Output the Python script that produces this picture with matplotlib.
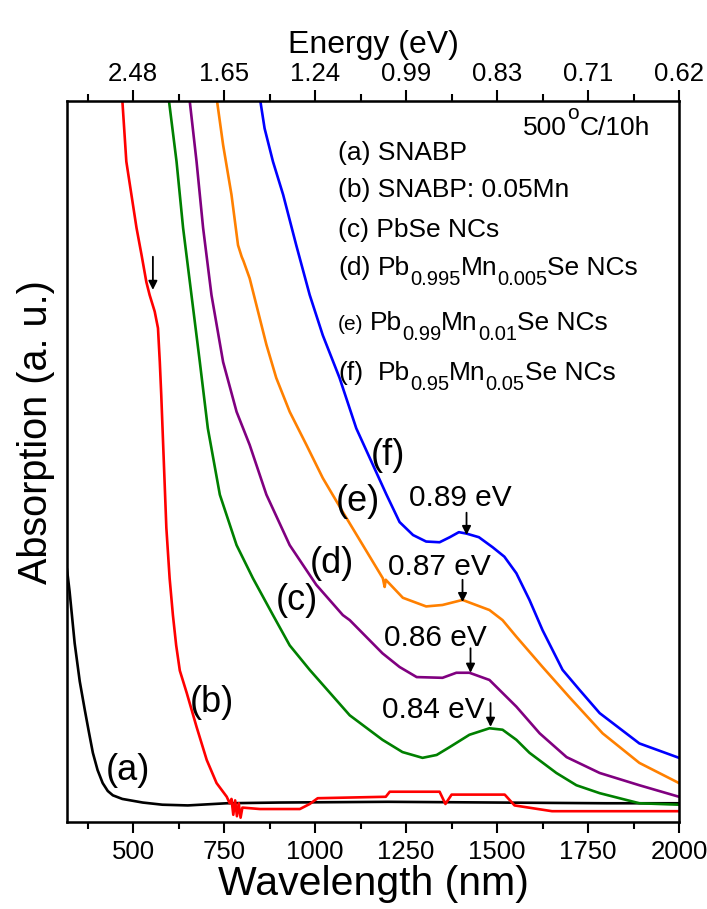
import matplotlib
matplotlib.use("Agg")
import matplotlib.pyplot as plt
from matplotlib.transforms import offset_copy

plt.rcParams["font.family"] = ["Liberation Sans", "DejaVu Sans"]

# ---- data (absorption in arbitrary units 0..100) ----
wl_a = [318, 325, 339, 353, 367, 378, 389, 402, 416, 430, 444, 470, 526, 580, 650, 757, 900,
        1200, 1500, 1800, 2000]
ab_a = [35.0, 32.0, 24.8, 19.5, 15.5, 12.5, 9.6, 7.2, 5.4, 4.3, 3.7, 3.2, 2.7, 2.4, 2.3, 2.6,
        2.7, 2.8, 2.7, 2.6, 2.6]

wl_b = [465, 470, 481, 495, 509, 523, 536, 545, 559, 568, 573, 577, 584, 591, 600, 609, 618, 628,
        647, 674, 702, 729, 757, 765, 770, 775, 780, 785, 790, 795, 800, 848, 958, 985, 1007, 1194,
        1205, 1342, 1358, 1375, 1521, 1548, 1651, 2000]
ab_b = [105.0, 100.1, 91.6, 87.0, 82.4, 78.6, 74.9, 73.1, 70.8, 68.5, 63.8, 59.2, 50.0, 40.8,
        33.8, 28.7, 24.5, 21.0, 17.9, 13.2, 8.6, 5.4, 3.5, 2.6, 3.2, 1.0, 3.0, 0.8, 2.6, 0.6,
        2.0, 1.8, 1.8, 2.5, 3.3, 3.5, 4.2, 4.2, 2.5, 3.8, 3.8, 2.3, 1.5, 1.5]

wl_c = [590, 598, 619, 637, 660, 683, 705, 738, 784, 829, 884, 930, 985, 1095, 1185, 1240, 1295,
        1334, 1370, 1424, 1479, 1515, 1553, 1589, 1663, 1718, 1782, 1891, 2000]
ab_c = [102, 100.1, 91.6, 82.4, 73.1, 63.8, 54.6, 45.4, 38.4, 33.8, 28.7, 24.5, 21.1, 14.8,
        11.4, 9.7, 8.9, 9.3, 10.4, 12.1, 13.0, 12.8, 11.4, 9.6, 6.8, 5.1, 4.0, 2.6, 2.4]

wl_d = [648, 655, 674, 692, 715, 747, 784, 820, 866, 930, 1003, 1076, 1095, 1185, 1232, 1279,
        1350, 1388, 1424, 1479, 1515, 1553, 1617, 1691, 1782, 1891, 2000]
ab_d = [102, 100.1, 91.6, 82.4, 73.1, 63.8, 56.9, 52.3, 45.4, 38.4, 32.9, 28.7, 28.0, 23.4,
        21.5, 20.1, 20.0, 20.7, 20.7, 19.7, 17.9, 16.0, 12.3, 9.0, 6.8, 5.1, 3.5]

wl_e = [722, 730, 747, 770, 788, 798, 803, 820, 843, 866, 893, 930, 976, 1021, 1076, 1131, 1186,
        1191, 1194, 1241, 1305, 1350, 1405, 1479, 1515, 1553, 1625, 1699, 1790, 1891, 2000]
ab_e = [102, 100.1, 93.9, 87.0, 80.0, 78.4, 77.8, 75.4, 70.8, 66.2, 61.6, 56.9, 52.3, 47.7,
        43.0, 38.4, 33.8, 32.6, 33.6, 31.1, 29.9, 30.1, 30.8, 29.4, 28.0, 25.7, 21.5, 17.3,
        12.3, 8.2, 5.4]

wl_f = [842, 849, 861, 884, 912, 948, 985, 1021, 1067, 1113, 1159, 1196, 1232, 1269, 1305, 1342,
        1370, 1395, 1416, 1450, 1488, 1520, 1553, 1589, 1625, 1680, 1727, 1782, 1891, 2000]
ab_f = [102, 100.1, 96.2, 91.6, 87.0, 80.0, 73.1, 67.5, 61.6, 54.6, 49.5, 45.4, 41.6, 39.8,
        38.9, 38.8, 39.5, 40.2, 40.0, 39.5, 38.1, 36.8, 34.5, 30.8, 26.6, 21.1, 18.3, 15.1,
        10.9, 8.9]

series = [(wl_a, ab_a, "black"), (wl_b, ab_b, "#ff0000"), (wl_c, ab_c, "#008000"),
          (wl_d, ab_d, "#800080"), (wl_e, ab_e, "#ff8000"), (wl_f, ab_f, "#0000ff")]

curve_tags = ["(a)", "(b)", "(c)", "(d)", "(e)", "(f)"]
tag_pos = [(485, 7.2), (716, 16.6), (949, 30.7), (1045, 35.9), (1117, 44.4), (1200, 50.9)]

peak_txt = ["0.89 eV", "0.87 eV", "0.86 eV", "0.84 eV"]
peak_txt_pos = [(1400, 45.0), (1342, 35.4), (1331, 25.5), (1326, 15.5)]
peak_arrow_x = [1416, 1405, 1427, 1482]
peak_arrow_y = [(42.9, 39.8), (33.6, 30.5), (24.1, 20.7), (16.5, 13.2)]

xticks = [500, 750, 1000, 1250, 1500, 1750, 2000]
xminor = [375, 625, 875, 1125, 1375, 1625, 1875]

fig = plt.figure(figsize=(7.07, 9.09), dpi=100)
ax = fig.add_axes([0.0948, 0.0957, 0.8656, 0.7932])

for wl, ab, col in series:
    ax.plot(wl, ab, color=col, lw=1.9, solid_joinstyle="round")

ax.set_xlim(318, 2000)
ax.set_ylim(0, 100)
ax.set_yticks([])
ax.set_xticks(xticks)
ax.set_xticks(xminor, minor=True)
ax.tick_params(axis="x", which="major", direction="out", length=8, width=1.5,
               labelsize=18.5, pad=5)
ax.tick_params(axis="x", which="minor", direction="out", length=5, width=1.5)
for s in ax.spines.values():
    s.set_linewidth(1.8)
ax.set_xlabel("Wavelength (nm)", fontsize=29.5, labelpad=1)
ax.set_ylabel("Absorption (a. u.)", fontsize=28.5)
ax.yaxis.set_label_coords(-0.02, 0.541)

# top energy axis
ax2 = ax.twiny()
ax2.set_xlim(ax.get_xlim())
ax2.set_xticks(xticks)
ax2.set_xticklabels([f"{1240 / w:.2f}" for w in xticks])
ax2.set_xticks(xminor, minor=True)
ax2.tick_params(axis="x", which="major", direction="out", length=8, width=1.5,
                labelsize=18.5, pad=3)
ax2.tick_params(axis="x", which="minor", direction="out", length=5, width=1.5)
ax2.set_xlabel("Energy (eV)", fontsize=23, labelpad=6)

for t, (x, y) in zip(curve_tags, tag_pos):
    ax.text(x, y, t, fontsize=26, ha="center", va="center")

for t, (x, y) in zip(peak_txt, peak_txt_pos):
    ax.text(x, y, t, fontsize=21.5, ha="center", va="center")
arw = dict(arrowstyle="-|>", color="black", lw=1.3, mutation_scale=13, shrinkA=0, shrinkB=0)
for x, (y0, y1) in zip(peak_arrow_x, peak_arrow_y):
    ax.annotate("", xy=(x, y1), xytext=(x, y0), arrowprops=arw)
ax.annotate("", xy=(554, 73.8), xytext=(554, 78.4), arrowprops=arw)


def rich(x, y, parts, size=19):
    """Draw text pieces side by side; kind n=normal, sub=subscript, sup=superscript."""
    renderer = fig.canvas.get_renderer()
    dx = 0.0
    for s, kind, fs, gap in parts:
        fs = fs or size
        dy = {"n": 0, "sub": -0.38 * size, "sup": 0.6 * size}[kind]
        tr = offset_copy(ax.transAxes, fig=fig, x=dx, y=dy, units="points")
        t = ax.text(x, y, s, transform=tr, fontsize=fs, va="baseline", ha="left")
        dx += t.get_window_extent(renderer).width * 72 / fig.dpi + gap


N, SUB, SUP = "n", "sub", "sup"
sf = 14.5
rich(0.745, 0.953, [("500", N, None, 0.5), ("o", SUP, 15, 0.5), ("C/10h", N, None, 0)])
lx = 0.443
rich(lx, 0.918, [("(a) SNABP", N, None, 0)])
rich(lx, 0.867, [("(b) SNABP: 0.05Mn", N, None, 0)])
rich(lx, 0.811, [("(c) PbSe NCs", N, None, 0)])
rich(lx, 0.759, [("(d)", N, None, 5.5), ("Pb", N, None, 0), ("0.995", SUB, sf, 0),
                 ("Mn", N, None, 0), ("0.005", SUB, sf, 0), ("Se NCs", N, None, 0)])
rich(lx, 0.682, [("(e)", N, 15, 4.5), ("Pb", N, None, 0), ("0.99", SUB, sf, 0),
                 ("Mn", N, None, 0), ("0.01", SUB, sf, 0), ("Se NCs", N, None, 0)])
rich(lx, 0.613, [("(f)", N, None, 10.5), ("Pb", N, None, 0), ("0.95", SUB, sf, 0),
                 ("Mn", N, None, 0), ("0.05", SUB, sf, 0), ("Se NCs", N, None, 0)])

fig.savefig("out.png", dpi=100)
